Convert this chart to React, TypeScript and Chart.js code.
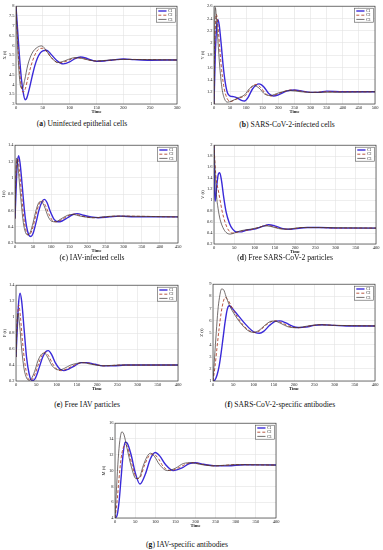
import React, { useEffect, useRef } from "react";
import { Chart, registerables } from "chart.js";
Chart.register(...registerables);

type P = [number, number][];

// ---------- (a) X(t) ----------
const aXTicks = [0, 50, 100, 150, 200, 250, 300];
const aYTicks = [3, 3.5, 4, 4.5, 5, 5.5, 6, 6.5, 7, 7.5, 8];
const aC1: P = [[0,8],[3,6.8],[6,5.6],[10,4.3],[14,3.5],[17,3.22],[20,3.3],[25,3.8],[30,4.4],[35,4.95],[40,5.35],[45,5.6],[50,5.72],[57,5.75],[65,5.55],[75,5.25],[88,5.05],[100,5.15],[110,5.32],[120,5.4],[130,5.35],[140,5.25],[150,5.18],[165,5.2],[180,5.25],[200,5.3],[220,5.27],[250,5.24],[300,5.25]];
const aC2: P = [[0,8],[3,6.3],[6,4.9],[10,3.9],[13,3.6],[17,3.75],[22,4.3],[28,4.95],[35,5.5],[42,5.8],[50,5.85],[58,5.65],[68,5.3],[80,5.1],[95,5.2],[110,5.35],[120,5.35],[140,5.22],[155,5.2],[180,5.25],[200,5.28],[300,5.25]];
const aC3: P = [[0,8],[3,5.9],[6,4.5],[9,3.85],[12,3.8],[16,4.2],[22,5.0],[30,5.6],[40,5.9],[48,5.97],[56,5.75],[65,5.4],[78,5.12],[90,5.2],[105,5.35],[115,5.37],[130,5.28],[150,5.2],[175,5.25],[200,5.28],[300,5.25]];

// ---------- (b) Y(t) ----------
const bXTicks = [0, 50, 100, 150, 200, 250, 300, 350, 400, 450, 500];
const bYTicks = [1, 1.2, 1.4, 1.6, 1.8, 2, 2.2, 2.4, 2.6];
const bC1: P = [[0,1],[4,1.8],[8,2.25],[12,2.38],[16,2.3],[22,2.0],[28,1.65],[35,1.35],[42,1.18],[50,1.13],[60,1.12],[72,1.1],[85,1.06],[95,1.05],[105,1.1],[120,1.25],[140,1.33],[155,1.28],[170,1.17],[185,1.13],[200,1.15],[225,1.21],[250,1.23],[275,1.21],[300,1.19],[325,1.19],[350,1.21],[400,1.2],[500,1.2]];
const bC2: P = [[0,1],[3,2.0],[7,2.47],[10,2.4],[15,2.1],[22,1.65],[30,1.3],[40,1.1],[52,1.04],[65,1.07],[80,1.1],[100,1.15],[115,1.27],[130,1.32],[145,1.27],[160,1.17],[178,1.13],[200,1.17],[240,1.23],[270,1.21],[300,1.19],[350,1.2],[500,1.2]];
const bC3: P = [[0,1],[2,2.2],[4,2.58],[7,2.45],[12,2.05],[18,1.6],[25,1.25],[33,1.08],[42,1.03],[55,1.05],[75,1.1],[95,1.15],[110,1.25],[125,1.3],[140,1.26],[158,1.16],[175,1.14],[200,1.18],[235,1.22],[270,1.2],[300,1.19],[500,1.2]];

// ---------- (c) I(t) ----------
const cXTicks = [0, 50, 100, 150, 200, 250, 300, 350, 400, 450];
const cYTicks = [0.2, 0.4, 0.6, 0.8, 1, 1.2, 1.4];
const cC1: P = [[0,0.5],[3,0.85],[6,1.15],[10,1.27],[14,1.18],[20,0.9],[26,0.6],[32,0.4],[38,0.3],[44,0.28],[50,0.32],[58,0.45],[66,0.6],[74,0.7],[81,0.735],[88,0.7],[98,0.58],[108,0.49],[118,0.46],[130,0.47],[145,0.51],[160,0.55],[172,0.56],[190,0.54],[210,0.52],[230,0.51],[260,0.52],[290,0.53],[330,0.52],[450,0.52]];
const cC2: P = [[0,0.5],[2,0.9],[5,1.22],[8,1.23],[12,1.1],[18,0.8],[24,0.52],[30,0.36],[36,0.3],[42,0.31],[50,0.4],[58,0.55],[66,0.67],[75,0.72],[84,0.66],[95,0.54],[105,0.47],[115,0.46],[130,0.49],[150,0.54],[165,0.555],[185,0.53],[220,0.51],[280,0.53],[450,0.52]];
const cC3: P = [[0,0.5],[2,1.0],[4,1.24],[7,1.2],[11,1.0],[17,0.7],[23,0.45],[29,0.33],[35,0.3],[42,0.33],[50,0.45],[58,0.6],[65,0.69],[72,0.71],[80,0.66],[92,0.52],[102,0.465],[112,0.46],[125,0.49],[145,0.54],[160,0.55],[180,0.53],[215,0.51],[275,0.53],[450,0.52]];

// ---------- (d) V(t) ----------
const dXTicks = [0, 50, 100, 150, 200, 250, 300, 350, 400];
const dYTicks = [0.2, 0.4, 0.6, 0.8, 1, 1.2, 1.4, 1.6, 1.8, 2];
const dC1: P = [[0,2],[1,1.3],[3,0.98],[6,1.2],[10,1.45],[14,1.5],[18,1.38],[24,1.05],[30,0.78],[38,0.58],[46,0.47],[55,0.42],[65,0.42],[80,0.45],[100,0.47],[120,0.52],[135,0.55],[150,0.53],[170,0.48],[190,0.47],[230,0.5],[260,0.5],[300,0.49],[400,0.49]];
const dC2: P = [[0,2],[3,1.6],[6,1.35],[10,1.2],[15,1.0],[20,0.8],[28,0.58],[36,0.45],[45,0.4],[55,0.41],[70,0.44],[90,0.46],[110,0.5],[130,0.54],[145,0.52],[165,0.48],[185,0.47],[220,0.5],[260,0.5],[300,0.49],[400,0.49]];
const dC3: P = [[0,2],[3,1.5],[6,1.1],[10,0.85],[15,0.65],[22,0.5],[30,0.41],[40,0.38],[50,0.4],[65,0.44],[90,0.47],[110,0.5],[125,0.53],[140,0.52],[160,0.48],[180,0.47],[215,0.5],[260,0.5],[400,0.49]];

// ---------- (e) P(t) ----------
const eXTicks = [0, 50, 100, 150, 200, 250, 300, 350, 400];
const eYTicks = [0.2, 0.4, 0.6, 0.8, 1, 1.2, 1.4];
const eC1: P = [[0,0.5],[3,0.85],[6,1.15],[10,1.3],[14,1.2],[20,0.85],[26,0.5],[32,0.3],[38,0.21],[44,0.21],[50,0.26],[58,0.38],[66,0.5],[74,0.57],[80,0.58],[88,0.53],[98,0.42],[108,0.35],[118,0.33],[130,0.35],[145,0.39],[160,0.43],[175,0.43],[195,0.41],[215,0.39],[240,0.39],[270,0.4],[300,0.4],[400,0.4]];
const eC2: P = [[0,0.5],[3,0.95],[7,1.15],[11,1.0],[16,0.7],[22,0.42],[28,0.26],[34,0.21],[40,0.22],[48,0.3],[56,0.42],[64,0.52],[72,0.56],[80,0.52],[90,0.42],[100,0.35],[112,0.33],[125,0.35],[140,0.39],[155,0.42],[170,0.43],[190,0.41],[220,0.39],[260,0.4],[400,0.4]];
const eC3: P = [[0,0.5],[2,0.85],[5,1.05],[9,0.9],[14,0.6],[20,0.35],[26,0.24],[32,0.21],[38,0.23],[46,0.32],[54,0.45],[62,0.53],[70,0.55],[78,0.5],[88,0.4],[98,0.35],[108,0.34],[120,0.36],[135,0.4],[150,0.42],[165,0.43],[185,0.41],[215,0.39],[255,0.4],[400,0.4]];

// ---------- (f) Z(t) ----------
const fXTicks = [0, 50, 100, 150, 200, 250, 300, 350, 400];
const fYTicks = [1, 2, 3, 4, 5, 6, 7, 8, 9];
const fC1: P = [[0,1],[5,1.1],[10,1.5],[15,2.2],[20,3.3],[25,4.6],[30,5.9],[35,6.9],[40,7.22],[45,7.1],[55,6.7],[65,6.3],[80,5.7],[95,5.2],[105,5.0],[115,4.95],[125,5.1],[140,5.6],[155,5.95],[165,5.97],[180,5.8],[195,5.55],[210,5.42],[230,5.45],[250,5.6],[270,5.65],[300,5.6],[330,5.55],[400,5.55]];
const fC2: P = [[0,1],[5,2.2],[10,3.8],[15,5.3],[20,6.6],[25,7.5],[30,7.9],[35,7.8],[45,7.2],[60,6.3],[75,5.6],[90,5.15],[103,5.02],[115,5.15],[130,5.6],[145,5.92],[155,5.97],[170,5.8],[190,5.5],[210,5.4],[240,5.55],[265,5.65],[300,5.6],[400,5.55]];
const fC3: P = [[0,1],[4,3.0],[8,5.0],[12,6.8],[16,7.9],[21,8.6],[26,8.55],[32,8.0],[40,7.3],[55,6.4],[70,5.7],[85,5.2],[100,5.02],[112,5.15],[128,5.6],[142,5.92],[152,5.95],[168,5.75],[185,5.48],[205,5.4],[235,5.55],[260,5.65],[300,5.6],[400,5.55]];

// ---------- (g) M(t) ----------
const gXTicks = [0, 50, 100, 150, 200, 250, 300, 350, 400];
const gYTicks = [4, 6, 8, 10, 12, 14, 16];
const gC1: P = [[0,4],[5,4.3],[10,6],[15,9],[20,12],[25,13.6],[30,13.5],[40,12],[50,9.8],[62,8.3],[75,9.5],[88,11.5],[100,12.3],[112,11.8],[125,10.8],[145,10.0],[165,10.3],[185,10.9],[200,11.0],[220,10.8],[250,10.6],[280,10.6],[320,10.75],[400,10.7]];
const gC2: P = [[0,4],[5,6],[10,9],[15,11.5],[20,12.8],[26,13.3],[32,12.8],[42,10.8],[55,9.0],[62,9.1],[72,10.5],[85,11.9],[95,12.1],[108,11.5],[120,10.5],[138,10.0],[160,10.4],[180,10.9],[195,11.0],[215,10.8],[250,10.6],[300,10.75],[400,10.7]];
const gC3: P = [[0,4],[4,8],[8,11.5],[12,13.8],[17,14.9],[22,14.6],[30,12.8],[40,10.6],[52,9.0],[60,9.1],[70,10.6],[80,11.8],[88,12.2],[98,11.8],[110,10.8],[130,10.0],[150,10.3],[170,10.9],[190,11.0],[210,10.8],[245,10.6],[300,10.75],[400,10.7]];

const seriesNames = ["C1", "C2", "C3"];

type Panel = {
  key: string; letter: string; caption: string; yTitle: string;
  xTicks: number[]; yTicks: number[]; series: P[];
  rect: { l: number; t: number; r: number; b: number };
  cap: { x: number; y: number };
};

const panels: Panel[] = [
  { key: "a", letter: "a", caption: "Uninfected epithelial cells", yTitle: "X (t)", xTicks: aXTicks, yTicks: aYTicks, series: [aC1, aC2, aC3], rect: { l: 16, t: 6, r: 177, b: 104 }, cap: { x: 82, y: 124 } },
  { key: "b", letter: "b", caption: "SARS-CoV-2-infected cells", yTitle: "Y (t)", xTicks: bXTicks, yTicks: bYTicks, series: [bC1, bC2, bC3], rect: { l: 214, t: 6, r: 375, b: 104 }, cap: { x: 287, y: 125 } },
  { key: "c", letter: "c", caption: "IAV-infected cells", yTitle: "I (t)", xTicks: cXTicks, yTicks: cYTicks, series: [cC1, cC2, cC3], rect: { l: 15, t: 145, r: 178, b: 243 }, cap: { x: 92, y: 258 } },
  { key: "d", letter: "d", caption: "Free SARS-CoV-2 particles", yTitle: "V (t)", xTicks: dXTicks, yTicks: dYTicks, series: [dC1, dC2, dC3], rect: { l: 214, t: 145, r: 376, b: 244 }, cap: { x: 285, y: 258 } },
  { key: "e", letter: "e", caption: "Free IAV particles", yTitle: "P (t)", xTicks: eXTicks, yTicks: eYTicks, series: [eC1, eC2, eC3], rect: { l: 16, t: 285, r: 178, b: 381 }, cap: { x: 87, y: 405 } },
  { key: "f", letter: "f", caption: "SARS-CoV-2-specific antibodies", yTitle: "Z (t)", xTicks: fXTicks, yTicks: fYTicks, series: [fC1, fC2, fC3], rect: { l: 213, t: 284, r: 375, b: 381 }, cap: { x: 280, y: 405 } },
  { key: "g", letter: "g", caption: "IAV-specific antibodies", yTitle: "M (t)", xTicks: gXTicks, yTicks: gYTicks, series: [gC1, gC2, gC3], rect: { l: 115, t: 423, r: 276, b: 518 }, cap: { x: 187, y: 545 } },
];

const styles = [
  { color: "#3a2ad8", width: 1.4, dash: [] as number[] },
  { color: "#b0442e", width: 0.9, dash: [3, 2] },
  { color: "#3a3030", width: 0.7, dash: [] as number[] },
];

const Y_AXIS_W = 16;
const X_AXIS_H = 11;
const PAD_T = 4;
const PAD_R = 6;
const FONT = '"Liberation Serif", "Times New Roman", serif';

const framePlugin = {
  id: "frameAndLegend",
  afterDraw(chart: any) {
    const { ctx, chartArea: ca } = chart;
    ctx.save();
    ctx.strokeStyle = "#3a3a3a";
    ctx.lineWidth = 0.7;
    ctx.strokeRect(ca.left, ca.top, ca.right - ca.left, ca.bottom - ca.top);
    const w = 19, h = 14;
    const x = ca.right - w - 1.5, y = ca.top + 2;
    ctx.fillStyle = "#ffffff";
    ctx.fillRect(x, y, w, h);
    ctx.strokeStyle = "#555";
    ctx.lineWidth = 0.6;
    ctx.strokeRect(x, y, w, h);
    chart.data.datasets.forEach((ds: any, i: number) => {
      const ly = y + 2.8 + i * 4.2;
      ctx.strokeStyle = ds.borderColor;
      ctx.lineWidth = ds.borderWidth;
      ctx.setLineDash(ds.borderDash || []);
      ctx.beginPath();
      ctx.moveTo(x + 1.8, ly);
      ctx.lineTo(x + 10, ly);
      ctx.stroke();
      ctx.setLineDash([]);
      ctx.fillStyle = "#111";
      ctx.font = `3.8px ${FONT}`;
      ctx.textBaseline = "middle";
      ctx.fillText(ds.label, x + 11.5, ly + 0.2);
    });
    ctx.restore();
  },
};

function PanelChart({ p }: { p: Panel }) {
  const ref = useRef<HTMLCanvasElement>(null);
  const width = p.rect.r - p.rect.l + Y_AXIS_W + PAD_R;
  const height = p.rect.b - p.rect.t + PAD_T + X_AXIS_H;
  useEffect(() => {
    if (!ref.current) return;
    const fmt = (v: any) => String(+Number(v).toFixed(2));
    const chart = new Chart(ref.current, {
      type: "line",
      data: {
        datasets: p.series.map((s, i) => ({
          label: seriesNames[i],
          data: s.map(([x, y]) => ({ x, y })),
          borderColor: styles[i].color,
          borderWidth: styles[i].width,
          borderDash: styles[i].dash,
          pointRadius: 0,
          fill: false,
          cubicInterpolationMode: "monotone" as const,
          order: 3 - i,
        })),
      },
      options: {
        animation: false,
        responsive: false,
        devicePixelRatio: 1,
        layout: { padding: { top: PAD_T, right: PAD_R, left: 0, bottom: 0 } },
        plugins: { legend: { display: false }, tooltip: { enabled: false } },
        scales: {
          x: {
            type: "linear",
            min: p.xTicks[0],
            max: p.xTicks[p.xTicks.length - 1],
            afterBuildTicks: (axis: any) => { axis.ticks = p.xTicks.map((v) => ({ value: v })); },
            afterFit: (axis: any) => { axis.height = X_AXIS_H; },
            grid: { color: "#e2e2e2", lineWidth: 0.6, drawTicks: false },
            border: { display: false },
            ticks: { font: { size: 4.5, family: FONT }, color: "#222", padding: 1.5, maxRotation: 0, autoSkip: false, callback: fmt },
            title: { display: true, text: "Time", font: { size: 4.6, family: FONT, weight: "bold" }, color: "#222", padding: { top: 0, bottom: 0.5 } },
          },
          y: {
            type: "linear",
            min: p.yTicks[0],
            max: p.yTicks[p.yTicks.length - 1],
            afterBuildTicks: (axis: any) => { axis.ticks = p.yTicks.map((v) => ({ value: v })); },
            afterFit: (axis: any) => { axis.width = Y_AXIS_W; },
            grid: { color: "#e2e2e2", lineWidth: 0.6, drawTicks: false },
            border: { display: false },
            ticks: { font: { size: 4.5, family: FONT }, color: "#222", padding: 1.5, autoSkip: false, callback: fmt },
            title: { display: true, text: p.yTitle, font: { size: 4.6, family: FONT }, color: "#222", padding: { top: 2, bottom: 0 } },
          },
        },
      },
      plugins: [framePlugin],
    } as any);
    return () => chart.destroy();
  }, [p]);
  return (
    <canvas
      ref={ref}
      width={width}
      height={height}
      style={{ position: "absolute", left: p.rect.l - Y_AXIS_W, top: p.rect.t - PAD_T, width, height }}
    />
  );
}

export default function App() {
  return (
    <div style={{ position: "absolute", left: 0, top: 0, width: 383, height: 550, background: "#fff", overflow: "hidden" }}>
      {panels.map((p) => (
        <PanelChart key={p.key} p={p} />
      ))}
      {panels.map((p) => (
        <div
          key={"cap" + p.key}
          style={{
            position: "absolute",
            left: p.cap.x,
            top: p.cap.y - 5,
            transform: "translateX(-50%)",
            whiteSpace: "nowrap",
            fontFamily: FONT,
            fontSize: 7.6,
            lineHeight: "10px",
            color: "#111",
          }}
        >
          (<b>{p.letter}</b>) {p.caption}
        </div>
      ))}
    </div>
  );
}
